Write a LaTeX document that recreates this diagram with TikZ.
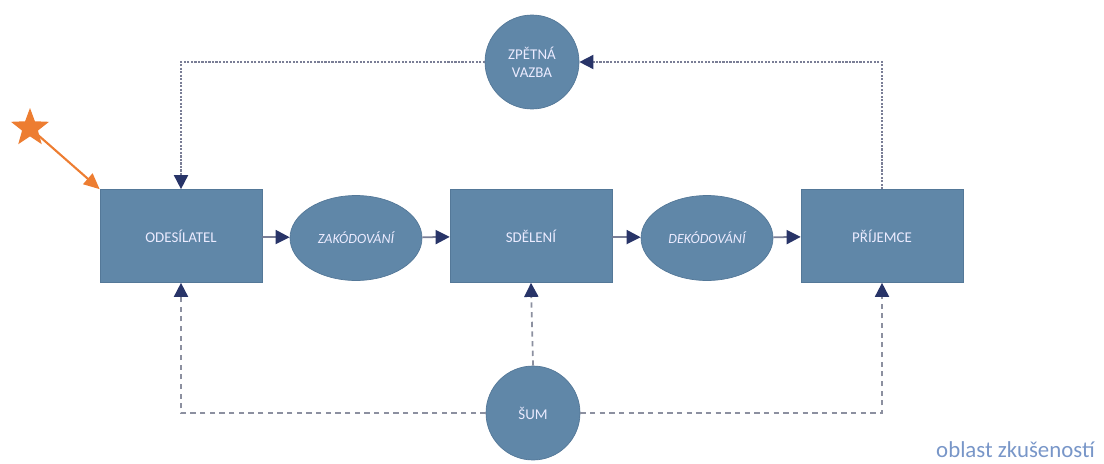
\documentclass[tikz,border=0pt]{standalone}
\usepackage{fontspec}
\setmainfont{Carlito}
\usepackage{tikz}
\usetikzlibrary{shapes.geometric, arrows.meta}
\definecolor{boxblue}{RGB}{96,135,168}
\definecolor{boxedge}{RGB}{84,120,152}
\definecolor{tipnavy}{RGB}{40,52,104}
\definecolor{linegray}{RGB}{122,126,150}
\definecolor{dashgray}{RGB}{140,144,160}
\definecolor{labelblue}{RGB}{120,150,200}
\definecolor{starorange}{RGB}{237,125,49}

\begin{document}
\begin{tikzpicture}[x=0.02cm, y=-0.02cm, font=\fontsize{8.5}{10}\selectfont,
    box/.style={rectangle, draw=boxedge, fill=boxblue, text=white!92!blue, minimum width=3.24cm, minimum height=1.86cm},
    code/.style={ellipse, draw=boxedge, fill=boxblue, text=white!92!blue, minimum width=2.64cm, minimum height=1.7cm, font=\fontsize{8}{10}\selectfont\itshape},
    circ/.style={circle, draw=boxedge, fill=boxblue, text=white!92!blue, minimum size=1.88cm, align=center, inner sep=0pt},
    n/.style={-{Triangle[width=8pt, length=8pt, color=tipnavy]}, draw=linegray, line width=1pt},
    d/.style={-{Triangle[width=8pt, length=8pt, color=tipnavy]}, draw=linegray, line width=1pt, dash pattern=on 1.2pt off 0.8pt},
    s/.style={-{Triangle[width=8pt, length=8pt, color=tipnavy]}, draw=dashgray, line width=1pt, dash pattern=on 3pt off 2.5pt}]
            \useasboundingbox (0,0) rectangle (1104,463);
            % nodes
            \node[box] (odes) at (181,236) {ODESÍLATEL};
            \node[code] (zak) at (356,238) {ZAKÓDOVÁNÍ};
            \node[box] (sdel) at (531,236) {SDĚLENÍ};
            \node[code] (dek) at (707,238) {DEKÓDOVÁNÍ};
            \node[box] (prij) at (882,236) {PŘÍJEMCE};
            \node[circ] (zpet) at (532,62) {ZPĚTNÁ\\VAZBA};
            \node[circ] (sum) at (533,413) {ŠUM};
            \node[star, star points=5, star point ratio=2.4, fill=starorange, minimum size=0.8cm, inner sep=0pt] (hv) at (30,128) {};
            \node[text=labelblue, font=\fontsize{13}{15}\selectfont, anchor=south east] (obl) at (1101,464) {oblast zkušeností};
            % edges
            \draw [n] (odes) -- (zak);
            \draw [n] (zak) -- (sdel);
            \draw [n] (sdel) -- (dek);
            \draw [n] (dek) -- (prij);
            \draw [d] (prij.north) |- (zpet.east);
            \draw [d] (zpet.west) -| (odes.north);
            \draw [s] (sum.west) -| (odes.south);
            \draw [s] (sum.north) -- (sdel.south);
            \draw [s] (sum.east) -| (prij.south);
            \draw [-{Triangle[width=8pt, length=9pt]}, starorange, line width=1.2pt] (hv.center) -- (odes.north west);
        \end{tikzpicture}
\end{document}
